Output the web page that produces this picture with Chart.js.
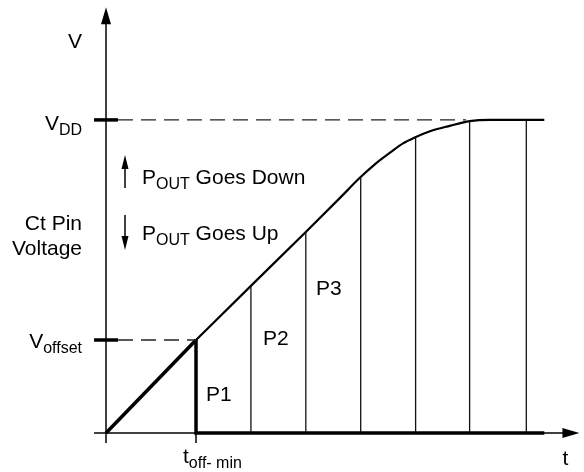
<!DOCTYPE html>
<html>
<head>
<meta charset="utf-8">
<script src="https://cdn.jsdelivr.net/npm/chart.js@4.4.1/dist/chart.umd.min.js"></script>
<style>
  html, body { margin: 0; padding: 0; background: #fff; }
  canvas { display: block; }
</style>
</head>
<body>
<canvas id="chart" width="584" height="472"></canvas>
<script>
// Ct pin voltage vs time (V normalised so VDD = 1, t so t_off-min = 1)
const curveT = [1, 1.61, 2.22, 2.6, 2.82, 2.99, 3.16, 3.3, 3.43, 3.6, 3.82, 4.04, 4.27, 4.87];
const curveV = [0.297, 0.47, 0.642, 0.751, 0.815, 0.859, 0.896, 0.925, 0.944, 0.964, 0.981, 0.996, 1, 1];
const rampT = [0, 1];
const rampV = [0, 0.297];
const sliceT = [1.61, 2.22, 2.83, 3.44, 4.04, 4.67];
const sliceV = [0.47, 0.642, 0.818, 0.945, 0.996, 1];
const vdd = 1;
const vOffset = 0.297;
const tOffMin = 1;
const tEnd = 4.87;
const yTickLabels = [['V', 'DD'], ['V', 'offset']];
const xTickLabels = [['t', 'off- min']];
const regionLabels = ['P1', 'P2', 'P3'];

// axis extents
const tAxisEnd = 5.26;
const vAxisTop = 1.36;
const stubT = -0.133;
const stubV = -0.032;

const BIG = '21px "Liberation Sans", Arial, sans-serif';
const SMALL = '16px "Liberation Sans", Arial, sans-serif';

function pts(ts, vs) {
    return ts.map((t, i) => ({x: t, y: vs[i]}));
}

function seg(data, width, extra) {
    return Object.assign({
        data: data,
        showLine: true,
        borderColor: '#000',
        borderWidth: width,
        pointRadius: 0,
        fill: false
    }, extra || {});
}

var datasets = [];
// axes
datasets.push(seg([{x: 0, y: stubV}, {x: 0, y: vAxisTop - 0.03}], 1.5));
datasets.push(seg([{x: stubT, y: 0}, {x: tAxisEnd - 0.1, y: 0}], 1.5));
datasets.push(seg([{x: tOffMin, y: 0}, {x: tOffMin, y: stubV}], 1.5));
// tick marks on the V axis
datasets.push(seg([{x: stubT, y: vdd}, {x: -stubT, y: vdd}], 3.5));
datasets.push(seg([{x: stubT, y: vOffset}, {x: -stubT, y: vOffset}], 3.5));
// dashed guides
datasets.push(seg([{x: -stubT, y: vdd}, {x: 4.0, y: vdd}], 1.3, {borderColor: '#222', borderDash: [15, 8]}));
datasets.push(seg([{x: -stubT, y: vOffset}, {x: tOffMin, y: vOffset}], 1.3, {borderColor: '#222', borderDash: [15, 8]}));
// slices
sliceT.forEach((t, i) => {
    datasets.push(seg([{x: t, y: 0}, {x: t, y: sliceV[i]}], 1.3, {borderColor: '#111'}));
});
// voltage curve
datasets.push(seg(pts(curveT, curveV), 2.2, {cubicInterpolationMode: 'monotone'}));
// thick ramp, t_off-min edge and baseline
datasets.push(seg(pts(rampT, rampV), 3.5));
datasets.push(seg([{x: tOffMin, y: vOffset}, {x: tOffMin, y: 0}, {x: tEnd, y: 0}], 3.5, {borderJoinStyle: 'miter'}));

function label(ctx, x, base, main, sub, rest, align) {
    ctx.font = BIG;
    var w1 = ctx.measureText(main).width;
    ctx.font = SMALL;
    var w2 = sub ? ctx.measureText(sub).width : 0;
    ctx.font = BIG;
    var w3 = rest ? ctx.measureText(rest).width : 0;
    var left = align === 'right' ? x - (w1 + w2 + w3) : x;
    ctx.textAlign = 'left';
    ctx.textBaseline = 'alphabetic';
    ctx.font = BIG;
    ctx.fillText(main, left, base);
    if (sub) {
        ctx.font = SMALL;
        ctx.fillText(sub, left + w1, base + 5);
    }
    if (rest) {
        ctx.font = BIG;
        ctx.fillText(rest, left + w1 + w2, base);
    }
}

function tri(ctx, ax, ay, bx, by, cx, cy) {
    ctx.beginPath();
    ctx.moveTo(ax, ay);
    ctx.lineTo(bx, by);
    ctx.lineTo(cx, cy);
    ctx.closePath();
    ctx.fill();
}

function smallArrow(ctx, x, y0, y1) {
    // shaft from y0 to tip y1
    var dir = y1 > y0 ? 1 : -1;
    ctx.lineWidth = 1.5;
    ctx.beginPath();
    ctx.moveTo(x, y0);
    ctx.lineTo(x, y1 - dir * 12);
    ctx.stroke();
    tri(ctx, x, y1, x - 3.5, y1 - dir * 14, x + 3.5, y1 - dir * 14);
}

const decor = {
    id: 'decor',
    afterDatasetsDraw(chart) {
        const ctx = chart.ctx;
        const xs = chart.scales.x, ys = chart.scales.y;
        const ox = xs.getPixelForValue(0), oy = ys.getPixelForValue(0);
        ctx.save();
        ctx.fillStyle = '#000';
        ctx.strokeStyle = '#000';

        // axis arrowheads
        const yTip = ys.getPixelForValue(vAxisTop);
        tri(ctx, ox, yTip, ox - 5, yTip + 17, ox + 5, yTip + 17);
        const xTip = xs.getPixelForValue(tAxisEnd);
        tri(ctx, xTip, oy, xTip - 17, oy - 5, xTip - 17, oy + 5);

        // axis titles
        label(ctx, 82, 48, 'V', '', '', 'right');
        label(ctx, xTip - 17, oy + 32, 't', '', '', 'left');
        label(ctx, 82, 230, 'Ct Pin', '', '', 'right');
        label(ctx, 82, 255, 'Voltage', '', '', 'right');

        // tick labels
        label(ctx, 82, ys.getPixelForValue(vdd) + 10, yTickLabels[0][0], yTickLabels[0][1], '', 'right');
        label(ctx, 82, ys.getPixelForValue(vOffset) + 8, yTickLabels[1][0], yTickLabels[1][1], '', 'right');
        label(ctx, xs.getPixelForValue(tOffMin) - 13, oy + 30, xTickLabels[0][0], xTickLabels[0][1], '', 'left');

        // region labels
        label(ctx, 206, 401, regionLabels[0], '', '', 'left');
        label(ctx, 263, 345, regionLabels[1], '', '', 'left');
        label(ctx, 316, 295, regionLabels[2], '', '', 'left');

        // P_OUT notes
        smallArrow(ctx, 125, 188, 155);
        label(ctx, 142, 184, 'P', 'OUT', ' Goes Down', 'left');
        smallArrow(ctx, 125, 215, 250);
        label(ctx, 142, 240, 'P', 'OUT', ' Goes Up', 'left');
        ctx.restore();
    }
};

new Chart(document.getElementById('chart'), {
    type: 'scatter',
    data: {datasets: datasets},
    options: {
        responsive: false,
        animation: false,
        devicePixelRatio: 1,
        layout: {padding: 0},
        events: [],
        plugins: {legend: {display: false}, tooltip: {enabled: false}},
        scales: {
            x: {type: 'linear', display: false, min: -1.178, max: 5.311},
            y: {type: 'linear', display: false, min: -0.1246, max: 1.383}
        }
    },
    plugins: [decor]
});
</script>
</body>
</html>
